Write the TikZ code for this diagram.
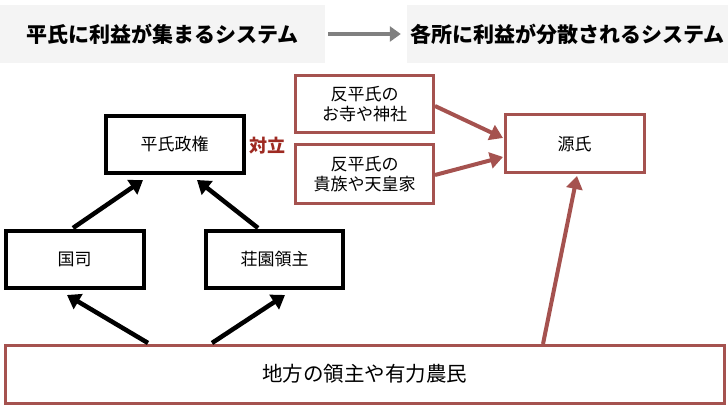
\documentclass[tikz,border=0pt]{standalone}
\usepackage{fontspec}
\setmainfont{Noto Sans CJK JP}
\usetikzlibrary{arrows.meta,calc}
\definecolor{rb}{HTML}{A5524F}
\definecolor{hdr}{HTML}{F4F4F4}
\definecolor{tai}{HTML}{9E2A22}
\tikzset{
  blk/.style={draw=black, line width=4pt, fill=white, inner sep=0pt, font=\fontsize{17}{20}\selectfont},
  red/.style={draw=rb, line width=3pt, fill=white, inner sep=0pt, font=\fontsize{17}{20}\selectfont, align=center},
  hbox/.style={fill=hdr, inner sep=0pt, font=\fontsize{21}{25}\selectfont\bfseries},
  barr/.style={line width=4.5pt, -{Triangle[length=13pt,width=17pt]}},
  rarr/.style={draw=rb, line width=4pt, -{Triangle[length=13pt,width=16pt]}},
}
\begin{document}
\begin{tikzpicture}[x=1pt,y=-1pt]
\useasboundingbox (0,0) rectangle (728,406);
% header
\node[hbox, minimum width=325pt, minimum height=58pt] (h1) at (162.5,34) {平氏に利益が集まるシステム};
\node[hbox, minimum width=321pt, minimum height=58pt] (h2) at (567.5,34) {各所に利益が分散されるシステム};
\draw[draw=gray, line width=4.5pt, -{Triangle[length=11pt,width=15pt]}] ($(h1.east)+(3,0)$) -- ($(h2.west)+(-6,0)$);
% black boxes
\node[blk, minimum width=138pt, minimum height=57pt] (hei) at (174.5,144.5) {平氏政権};
\node[blk, minimum width=138pt, minimum height=57pt] (koku) at (74.5,259) {国司};
\node[blk, minimum width=137pt, minimum height=57pt] (shou) at (274.5,259) {荘園領主};
% red boxes
\node[red, minimum width=138pt, minimum height=57pt] (tera) at (364.5,104) {反平氏の\\お寺や神社};
\node[red, minimum width=138pt, minimum height=59pt] (kizoku) at (364.5,174.5) {反平氏の\\貴族や天皇家};
\node[red, minimum width=139pt, minimum height=58pt] (gen) at (574.5,144) {源氏};
\node[red, minimum width=719pt, minimum height=58pt, font=\fontsize{20.5}{24}\selectfont] (chiho) at (364.5,374) {地方の領主や有力農民};
\node[font=\fontsize{18}{21}\selectfont\bfseries, text=tai, inner sep=0pt] (tairitsu) at (267,146) {対立};
% black arrows
\coordinate (k0) at (73,228); \coordinate (k1) at (143,180);
\coordinate (s0) at (258,228); \coordinate (s1) at (197,180);
\coordinate (c0) at (148,343); \coordinate (c1) at (67,295);
\coordinate (c2) at (212,343); \coordinate (c3) at (285,295);
\draw[barr] (k0) -- (k1);
\draw[barr] (s0) -- (s1);
\draw[barr] (c0) -- (c1);
\draw[barr] (c2) -- (c3);
% red arrows
\draw[rarr] (tera.east |- 0,106) -- (503,138);
\draw[rarr] (kizoku.east |- 0,175) -- (503,157);
\draw[rarr] (543,344) -- (577,176);
\end{tikzpicture}
\end{document}
